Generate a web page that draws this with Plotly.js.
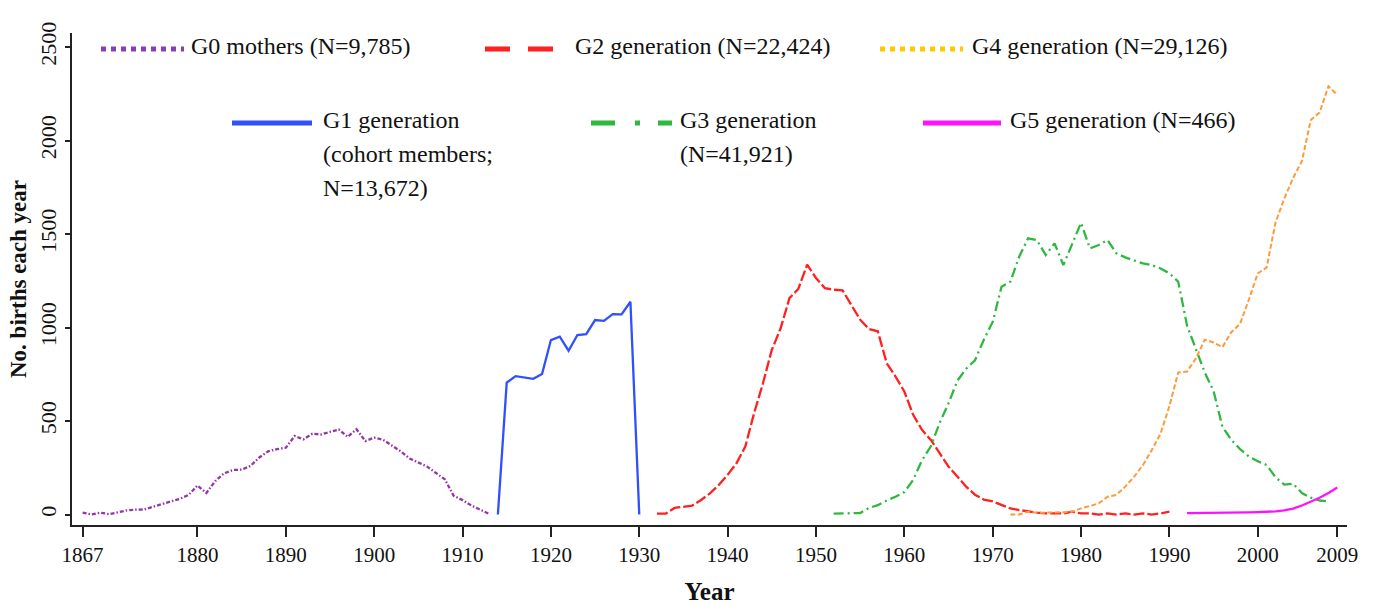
<!DOCTYPE html>
<html>
<head>
<meta charset="utf-8">
<script src="https://cdn.plot.ly/plotly-3.0.1.min.js"></script>
<style>
  html, body { margin: 0; padding: 0; background: #fff; }
  #chart { width: 1373px; height: 611px; }
</style>
</head>
<body>
<div id="chart"></div>
<script>
// ---- Data ----
const g0Years = [1867,1868,1869,1870,1871,1872,1873,1874,1875,1876,1877,1878,1879,1880,1881,1882,1883,1884,1885,1886,1887,1888,1889,1890,1891,1892,1893,1894,1895,1896,1897,1898,1899,1900,1901,1902,1903,1904,1905,1906,1907,1908,1909,1910,1911,1912,1913];
const g0Births = [10,0,10,2,12,22,26,27,42,55,70,84,105,155,115,178,220,238,240,260,305,338,350,357,420,402,432,428,442,455,415,456,393,411,400,370,338,300,280,256,222,188,100,77,48,27,4];

const g1Years = [1914,1915,1916,1917,1918,1919,1920,1921,1922,1923,1924,1925,1926,1927,1928,1929,1930];
const g1Births = [0,705,740,733,726,751,933,951,876,960,965,1040,1036,1072,1070,1138,0];

const g2Years = [1932,1933,1934,1935,1936,1937,1938,1939,1940,1941,1942,1943,1944,1945,1946,1947,1948,1949,1950,1951,1952,1953,1954,1955,1956,1957,1958,1959,1960,1961,1962,1963,1964,1965,1966,1967,1968,1969,1970,1971,1972,1973,1974,1975,1976,1977,1978,1979,1980,1981,1982,1983,1984,1985,1986,1987,1988,1989,1990];
const g2Births = [5,5,35,42,48,78,113,158,212,274,363,542,702,880,996,1157,1206,1336,1265,1211,1202,1199,1122,1042,992,980,810,738,658,533,453,399,328,256,203,149,106,80,70,51,33,24,15,10,6,6,6,15,6,6,0,6,0,6,0,6,0,6,15];

const g3Years = [1952,1953,1954,1955,1956,1957,1958,1959,1960,1961,1962,1963,1964,1965,1966,1967,1968,1969,1970,1971,1972,1973,1974,1975,1976,1977,1978,1979,1980,1981,1982,1983,1984,1985,1986,1987,1988,1989,1990,1991,1992,1993,1994,1995,1996,1997,1998,1999,2000,2001,2002,2003,2004,2005,2006,2007,2008];
const g3Births = [5,5,5,8,35,50,75,95,120,185,290,365,490,595,715,780,825,935,1030,1218,1245,1379,1477,1468,1388,1450,1334,1450,1560,1423,1441,1468,1397,1375,1361,1343,1334,1316,1290,1245,1010,880,760,660,470,400,350,310,285,265,200,160,165,115,90,75,70];

const g4Years = [1972,1973,1974,1975,1976,1977,1978,1979,1980,1981,1982,1983,1984,1985,1986,1987,1988,1989,1990,1991,1992,1993,1994,1995,1996,1997,1998,1999,2000,2001,2002,2003,2004,2005,2006,2007,2008,2009];
const g4Births = [0,0,15,10,10,10,12,15,33,45,60,95,105,149,202,264,344,433,580,760,765,835,935,920,895,975,1020,1150,1290,1320,1560,1690,1800,1890,2110,2150,2290,2245];

const g5Years = [1992,1993,1994,1995,1996,1997,1998,1999,2000,2001,2002,2003,2004,2005,2006,2007,2008,2009];
const g5Births = [8,8,9,9,10,10,11,12,13,14,17,22,32,48,68,90,115,145];

const xTickVals = [1867,1880,1890,1900,1910,1920,1930,1940,1950,1960,1970,1980,1990,2000,2009];
const yTickVals = [0,500,1000,1500,2000,2500];

const legendLabels = {
  g0: ["G0 mothers (N=9,785)"],
  g1: ["G1 generation", "(cohort members;", "N=13,672)"],
  g2: ["G2 generation (N=22,424)"],
  g3: ["G3 generation", "(N=41,921)"],
  g4: ["G4 generation (N=29,126)"],
  g5: ["G5 generation (N=466)"]
};

// ---- Styling ----
const FONT = "Liberation Serif, Times New Roman, serif";
const colors = {
  g0: "#9436a8", g1: "#3050ff", g2: "#ff2020", g3: "#2fb83f", g4: "#ff9a3c", g5: "#ff10ff",
  g4legend: "#ffc800", g0legend: "#8b3db5"
};

function lineTrace(x, y, color, dash, width, name) {
  return { type: "scatter", mode: "lines", x: x, y: y, name: name,
    line: { color: color, dash: dash, width: width }, showlegend: false, hoverinfo: "skip" };
}

const traces = [
  lineTrace(g0Years, g0Births, colors.g0, "4px,2px,1.5px,2px", 2.3, legendLabels.g0[0]),
  lineTrace(g1Years, g1Births, colors.g1, "solid", 2.3, legendLabels.g1[0]),
  lineTrace(g2Years, g2Births, colors.g2, "11px,3px", 2.3, legendLabels.g2[0]),
  lineTrace(g3Years, g3Births, colors.g3, "10px,4px,2px,4px", 2.3, legendLabels.g3[0]),
  lineTrace(g4Years, g4Births, colors.g4, "5px,2.5px", 2, legendLabels.g4[0]),
  lineTrace(g5Years, g5Births, colors.g5, "solid", 2.3, legendLabels.g5[0])
];

// plot area in pixels
const L = 72, R = 26, T = 33, B = 86, W = 1373, H = 611;
const pw = W - L - R, ph = H - T - B;
const px = v => (v - L) / pw;
const py = v => (H - B - v) / ph;

const legendItems = [
  { x0: 101, x1: 184, y: 49, color: colors.g0legend, dash: "5px,5px", tx: 189, ty: [46], lines: legendLabels.g0 },
  { x0: 485, x1: 555, y: 49, color: colors.g2, dash: "25px,18px", tx: 573, ty: [46], lines: legendLabels.g2 },
  { x0: 880, x1: 963, y: 49, color: colors.g4legend, dash: "5px,5px", tx: 970, ty: [46], lines: legendLabels.g4 },
  { x0: 232, x1: 312, y: 123, color: colors.g1, dash: "solid", tx: 321, ty: [120, 154, 188], lines: legendLabels.g1 },
  { x0: 591, x1: 672, y: 123, color: colors.g3, dash: "24px,20px,5px,18px", tx: 678, ty: [120, 154], lines: legendLabels.g3 },
  { x0: 923, x1: 1001, y: 123, color: colors.g5, dash: "solid", tx: 1008, ty: [120], lines: legendLabels.g5 }
];

const shapes = legendItems.map(it => ({
  type: "line", xref: "paper", yref: "paper",
  x0: px(it.x0), x1: px(it.x1), y0: py(it.y), y1: py(it.y),
  line: { color: it.color, width: 5, dash: it.dash }
}));

const annotations = [];
legendItems.forEach(it => {
  it.lines.forEach((t, i) => {
    annotations.push({
      xref: "paper", yref: "paper", x: px(it.tx), y: py(it.ty[i]),
      xanchor: "left", yanchor: "middle", showarrow: false, text: t,
      font: { family: FONT, size: 24, color: "#111" }
    });
  });
});

const layout = {
  width: W, height: H,
  margin: { l: L, r: R, t: T, b: B, pad: 0 },
  paper_bgcolor: "#fff", plot_bgcolor: "#fff",
  showlegend: false,
  font: { family: FONT, color: "#111" },
  xaxis: {
    range: [1865.8, 2010.1], tickmode: "array", tickvals: xTickVals,
    ticks: "outside", ticklen: 10, tickwidth: 2, tickcolor: "#222",
    showline: true, linecolor: "#222", linewidth: 2, mirror: false,
    showgrid: false, zeroline: false,
    tickfont: { family: FONT, size: 21, color: "#111" },
    title: { text: "<b>Year</b>", font: { family: FONT, size: 25, color: "#111" }, standoff: 16 }
  },
  yaxis: {
    range: [-56, 2575], tickmode: "array", tickvals: yTickVals,
    ticks: "outside", ticklen: 5, tickwidth: 2, tickcolor: "#222",
    showline: true, linecolor: "#222", linewidth: 2,
    showgrid: false, zeroline: false, tickangle: -90,
    tickfont: { family: FONT, size: 22, color: "#111" },
    title: { text: "<b>No. births each year</b>", font: { family: FONT, size: 23, color: "#111" }, standoff: 3 }
  },
  shapes: shapes,
  annotations: annotations
};

Plotly.newPlot("chart", traces, layout, { staticPlot: true, displayModeBar: false });
</script>
</body>
</html>
